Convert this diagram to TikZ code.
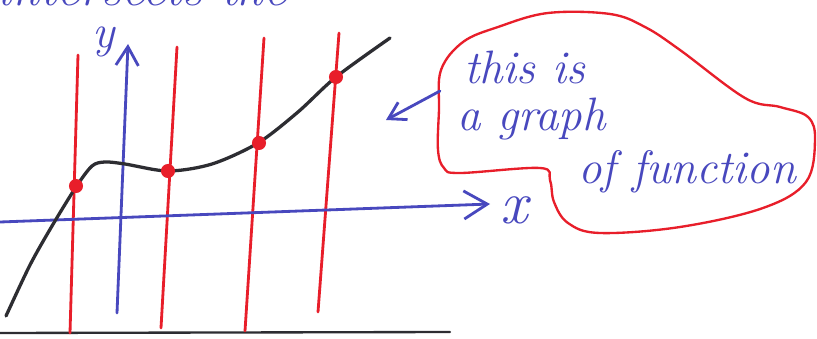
\documentclass[tikz,border=0pt]{standalone}
\usetikzlibrary{arrows.meta}
\definecolor{penblue}{RGB}{72,72,190}
\definecolor{penred}{RGB}{232,30,42}
\definecolor{penblack}{RGB}{45,45,50}
\tikzset{
  pen/.style={line width=2.4pt, line cap=round, line join=round},
  bluepen/.style={pen, draw=penblue},
  redpen/.style={pen, draw=penred},
  blackpen/.style={pen, draw=penblack},
  hand/.style={text=penblue, font=\itshape\fontsize{40}{44}\selectfont, inner sep=0pt},
  barb/.style={-{Straight Barb[length=#1, width=1.2*#1, line width=2.4pt]}},
  dot/.style={circle, fill=penred, minimum size=12pt, inner sep=0pt},
}
\begin{document}
\begin{tikzpicture}[x=0.3mm, y=-0.3mm]
\useasboundingbox (0,0) rectangle (817,339);
\clip (0,0) rectangle (817,339);
\fill[white] (0,0) rectangle (817,339);
% cut-off text at top
\node[hand, anchor=base west, font=\itshape\fontsize{44}{48}\selectfont] (top) at (-4,6) {intersects the};
% bottom black line
\coordinate (b1) at (0,333);
\coordinate (b2) at (450,332);
\draw[blackpen, line width=2pt] (b1) -- (b2);
% red vertical lines
\coordinate (r1t) at (78,55);  \coordinate (r1b) at (70,333);
\coordinate (r2t) at (177,47); \coordinate (r2b) at (161,328);
\coordinate (r3t) at (264,38); \coordinate (r3b) at (245,331);
\coordinate (r4t) at (339,33); \coordinate (r4b) at (318,312);
\draw[redpen] (r1t) -- (r1b);
\draw[redpen] (r2t) -- (r2b);
\draw[redpen] (r3t) -- (r3b);
\draw[redpen] (r4t) -- (r4b);
% axes
\coordinate (x0) at (0,222);
\coordinate (x1) at (490,204);
\coordinate (y0) at (117,313);
\coordinate (y1) at (128,44);
\draw[bluepen, barb=20pt] (x0) -- (x1);
\draw[bluepen, barb=16pt] (y0) -- (y1);
\node[hand, anchor=base west, font=\itshape\fontsize{52}{56}\selectfont] (xl) at (500,223) {x};
\node[hand, anchor=base west] (yl) at (92,48) {y};
% function graph
\draw[blackpen, line width=2.8pt] plot[smooth, tension=0.5] coordinates
 {(6,316) (30,265) (52,226) (76,187) (92,166) (105,162) (125,164) (168,171) (212,164) (258,143) (298,112) (336,77) (390,38)};
% intersection dots
\node[dot] (d1) at (76,186) {};
\node[dot] (d2) at (168,171) {};
\node[dot] (d3) at (259,143) {};
\node[dot] (d4) at (336,77) {};
% bubble
\draw[redpen, line width=2pt] plot[smooth cycle, tension=0.6] coordinates
 {(441,70) (439,110) (438,150) (444,168) (460,173) (540,168) (550,180) (554,202) (568,223) (600,233) (680,227) (763,208) (806,182) (815,140) (808,117) (780,107) (745,98) (680,50) (645,27) (610,14) (548,13) (498,27) (463,42)};
% bubble text
\node[hand, anchor=base west] (t1) at (464,84) {this is};
\node[hand, anchor=base west] (t2) at (457,130) {a graph};
\node[hand, anchor=base west] (t3) at (578,183) {of function};
% pointer
\coordinate (p0) at (440,91);
\coordinate (p1) at (386,120);
\draw[bluepen, barb=14pt] (p0) -- (p1);
\end{tikzpicture}
\end{document}
